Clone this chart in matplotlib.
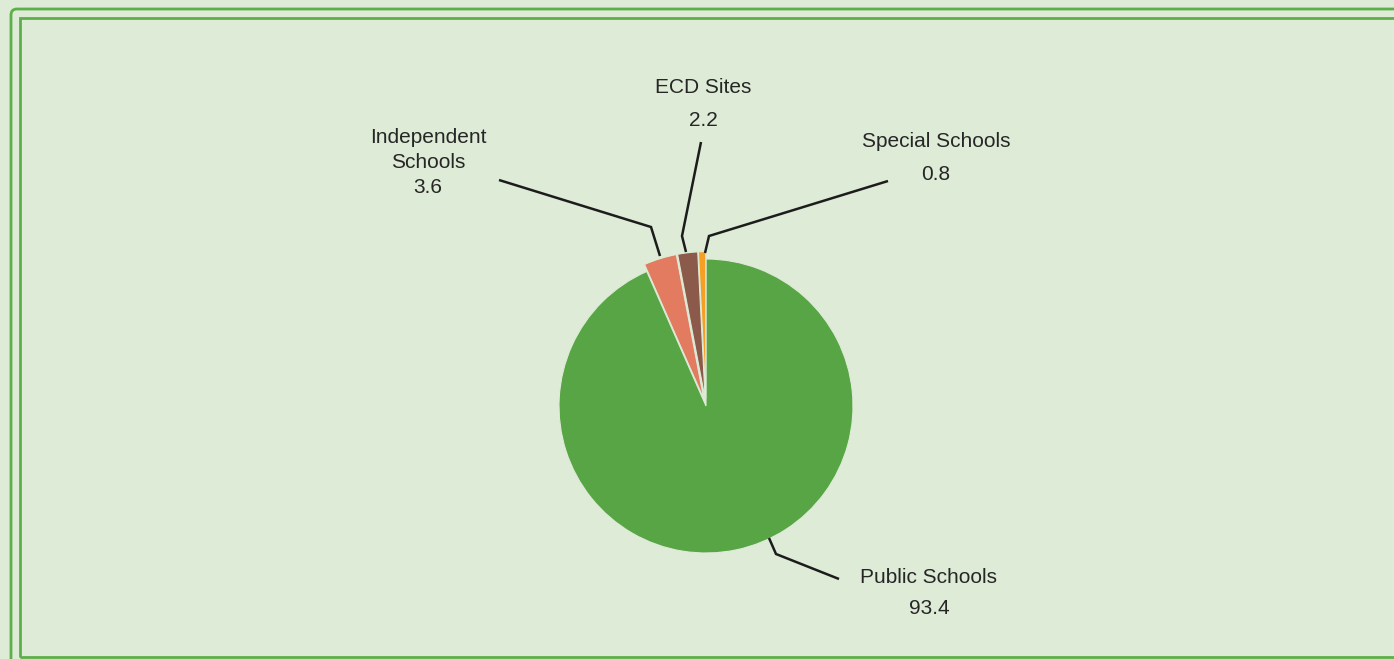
import matplotlib
matplotlib.use("Agg")
import matplotlib.pyplot as plt
from matplotlib.patches import FancyBboxPatch, Rectangle

# Share of sites by school type (%)
categories = ["Public Schools", "Independent Schools", "ECD Sites", "Special Schools"]
shares = [93.4, 3.6, 2.2, 0.8]
label_lines = [["Public Schools"], ["Independent", "Schools"], ["ECD Sites"], ["Special Schools"]]
colors = ["#58A545", "#E27B60", "#8C5A4A", "#F5A025"]
explode_frac = [0.0, 0.05, 0.05, 0.05]

BG = "#DEEBD7"
BORDER = "#5DAF4A"
TEXT = "#262626"

W, H = 1394, 659
fig = plt.figure(figsize=(W / 100, H / 100), dpi=100, facecolor=BG)
ax = fig.add_axes([0, 0, 1, 1])
ax.set_facecolor(BG)


def py(y):
    """Convert a top-down pixel row into axes data y."""
    return H - y


# Pie (explode offsets in matplotlib are absolute, so scale by radius)
cx, cy, r = 706, py(406), 147
wedges, _ = ax.pie(shares, colors=colors, explode=[f * r for f in explode_frac],
                   startangle=90, counterclock=False, center=(cx, cy), radius=r,
                   wedgeprops=dict(edgecolor=BG, linewidth=0.8),
                   frame=True)
ax.set_xlim(0, W)
ax.set_ylim(0, H)
ax.set_aspect("equal")
ax.axis("off")

# Double frame round the panel
ax.add_patch(FancyBboxPatch((11, py(H + 20)), W + 30, H + 11,
                            boxstyle="round,pad=0,rounding_size=6",
                            fill=False, edgecolor=BORDER, linewidth=2.0, zorder=1))
ax.add_patch(Rectangle((20, py(657)), W + 30, 657 - 18,
                       fill=False, edgecolor=BORDER, linewidth=2.0, zorder=1))

# Leader lines (pixel layout, top-down rows)
leaders = [
    [(839, 579), (776, 554), (769, 538)],
    [(499, 180), (651, 227), (660, 256)],
    [(701, 142), (682, 236), (686, 252)],
    [(888, 181), (709, 236), (705, 253)],
]
for pts in leaders:
    xs = [p[0] for p in pts]
    ys = [py(p[1]) for p in pts]
    ax.plot(xs, ys, color="#1C1C1C", linewidth=1.8, solid_capstyle="butt",
            solid_joinstyle="miter", zorder=5)

# Label text: (centre x, baselines for the name lines, baseline for the value)
label_pos = [
    (929, [583], 614),
    (428, [143, 168], 193),
    (703, [93], 126),
    (936, [147], 180),
]
font = dict(family=["Liberation Sans", "DejaVu Sans"], size=15, color=TEXT)
for lines, val, (x, name_bl, val_bl) in zip(label_lines, shares, label_pos):
    for line, bl in zip(lines, name_bl):
        ax.text(x, py(bl), line, ha="center", va="baseline", **font)
    ax.text(x, py(val_bl), f"{val:.1f}", ha="center", va="baseline", **font)

fig.savefig("out.png", dpi=100, facecolor=BG)
